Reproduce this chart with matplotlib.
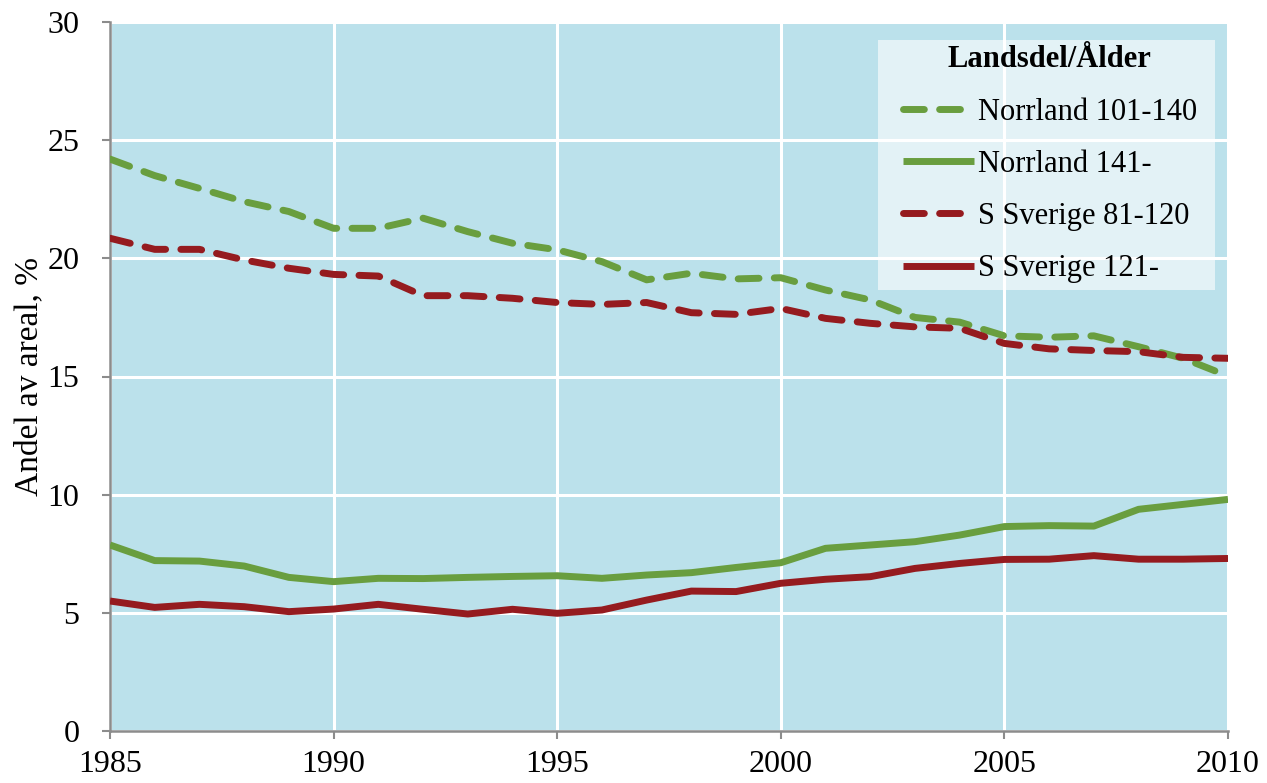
import matplotlib
matplotlib.use("Agg")
import matplotlib.pyplot as plt
from matplotlib.patches import Rectangle

years = list(range(1985, 2011))
norrland_101_140 = [24.2, 23.5, 22.96, 22.4, 21.98, 21.27, 21.27, 21.7, 21.13, 20.64,
                    20.36, 19.86, 19.09, 19.37, 19.13, 19.18, 18.66, 18.24, 17.5, 17.3,
                    16.72, 16.66, 16.72, 16.26, 15.77, 15.02]
norrland_141 = [7.87, 7.21, 7.19, 6.98, 6.5, 6.32, 6.46, 6.45, 6.5, 6.54,
                6.57, 6.46, 6.6, 6.7, 6.92, 7.12, 7.73, 7.87, 8.01, 8.29,
                8.65, 8.69, 8.67, 9.38, 9.59, 9.8]
ssverige_81_120 = [20.85, 20.38, 20.38, 19.93, 19.58, 19.32, 19.25, 18.42, 18.42, 18.31,
                   18.13, 18.05, 18.13, 17.7, 17.63, 17.88, 17.46, 17.25, 17.1, 17.04,
                   16.4, 16.17, 16.1, 16.05, 15.81, 15.77]
ssverige_121 = [5.5, 5.23, 5.36, 5.26, 5.05, 5.16, 5.36, 5.15, 4.95, 5.15,
                4.98, 5.12, 5.54, 5.92, 5.9, 6.25, 6.42, 6.53, 6.88, 7.09,
                7.26, 7.27, 7.42, 7.27, 7.27, 7.3]

labels = ["Norrland 101-140", "Norrland 141-", "S Sverige 81-120", "S Sverige 121-"]
legend_title = "Landsdel/Ålder"
ylabel = "Andel av areal, %"

green = "#699E3F"
red = "#951B1F"

plt.rcParams["font.family"] = ["Liberation Serif", "DejaVu Serif"]

W, H = 1267, 783
fig = plt.figure(figsize=(W/100, H/100), dpi=100)
x0, x1, ytop, ybot = 110, 1228, 22, 731
ax = fig.add_axes([x0/W, 1-ybot/H, (x1-x0)/W, (ybot-ytop)/H])
ax.set_facecolor("#BBE1EB")

lw = 5.0
dash = (0, (3.0, 2.2))
ax.plot(years, norrland_101_140, color=green, lw=lw, linestyle=dash,
        dash_capstyle="round", label=labels[0], zorder=3)
ax.plot(years, norrland_141, color=green, lw=lw, solid_capstyle="butt",
        label=labels[1], zorder=3)
ax.plot(years, ssverige_81_120, color=red, lw=lw, linestyle=dash,
        dash_capstyle="round", label=labels[2], zorder=3)
ax.plot(years, ssverige_121, color=red, lw=lw, solid_capstyle="butt",
        label=labels[3], zorder=3)

ax.set_xlim(1985, 2010)
ax.set_ylim(0, 30)
ax.set_xticks(range(1985, 2011, 5))
ax.set_yticks(range(0, 31, 5))
ax.grid(True, color="white", lw=2.2, zorder=1)
ax.set_axisbelow(True)

for s in ["top", "right"]:
    ax.spines[s].set_visible(False)
for s in ["left", "bottom"]:
    ax.spines[s].set_color("#8C8C8C")
    ax.spines[s].set_linewidth(1.8)

ax.tick_params(axis="both", direction="out", length=6, width=1.5,
               color="#8C8C8C", labelsize=23, labelcolor="black")
ax.tick_params(axis="x", pad=8)
ax.tick_params(axis="y", pad=16)

ax.set_ylabel(ylabel, fontsize=24, labelpad=2)

# legend background panel (pixel box 878..1215 x 40..290)
def ax_x(px):
    return (px - x0) / (x1 - x0)

def ax_y(py):
    return (ybot - py) / (ybot - ytop)

panel = Rectangle((ax_x(878), ax_y(290)), ax_x(1215) - ax_x(878), ax_y(40) - ax_y(290),
                  transform=ax.transAxes, facecolor="white", alpha=0.6,
                  edgecolor="none", zorder=4)
ax.add_patch(panel)

leg = ax.legend(loc="upper right", bbox_to_anchor=(ax_x(1215), ax_y(27)),
                borderaxespad=0, frameon=False, fontsize=22,
                title=legend_title, title_fontproperties={"weight": "bold", "size": 22},
                handlelength=2.33, handletextpad=0.12, labelspacing=0.76,
                borderpad=0.6)
leg.set_zorder(5)

fig.savefig("out.png", dpi=100)
